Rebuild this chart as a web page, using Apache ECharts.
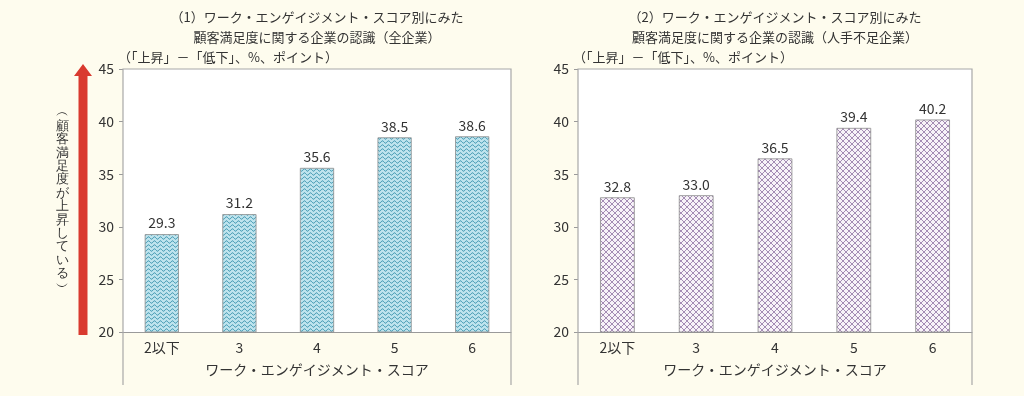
<!DOCTYPE html>
<html><head><meta charset="utf-8">
<script src="https://cdn.jsdelivr.net/npm/echarts@6/dist/echarts.min.js"></script>
<style>html,body{margin:0;padding:0;background:#fefcee;}#c{width:1024px;height:396px;}</style>
</head><body><div id="c"></div>
<script>
const categories = ['2以下', '3', '4', '5', '6'];
const allFirms = [29.3, 31.2, 35.6, 38.5, 38.6];
const shortageFirms = [32.8, 33.0, 36.5, 39.4, 40.2];
const title1 = '（1）ワーク・エンゲイジメント・スコア別にみた\n顧客満足度に関する企業の認識（全企業）';
const title2 = '（2）ワーク・エンゲイジメント・スコア別にみた\n顧客満足度に関する企業の認識（人手不足企業）';
const unitLabel = '（「上昇」－「低下」、%、ポイント）';
const xName = 'ワーク・エンゲイジメント・スコア';
const sideNote = '︵顧客満足度が上昇している︶';
const yMin = 20, yMax = 45, yStep = 5;

const FONT = '"Noto Sans CJK JP", "Noto Sans", sans-serif';

function wavePattern() {
  const c = document.createElement('canvas');
  c.width = 6; c.height = 4;
  const g = c.getContext('2d');
  g.fillStyle = '#bfe4ee'; g.fillRect(0, 0, 6, 4);
  g.strokeStyle = '#3590aa'; g.lineWidth = 1;
  g.beginPath();
  for (let x = 0; x <= 6; x += 0.5) {
    const y = 2 + 1.2 * Math.sin(x / 6 * Math.PI * 2);
    if (x === 0) g.moveTo(x, y); else g.lineTo(x, y);
  }
  g.stroke();
  return c;
}
function crossPattern() {
  const c = document.createElement('canvas');
  c.width = 6; c.height = 6;
  const g = c.getContext('2d');
  g.fillStyle = '#f7f2f8'; g.fillRect(0, 0, 6, 6);
  g.strokeStyle = '#a48cb4'; g.lineWidth = 1;
  g.beginPath();
  g.moveTo(0, 0); g.lineTo(6, 6);
  g.moveTo(6, 0); g.lineTo(0, 6);
  g.stroke();
  return c;
}

const grids = [
  { left: 123, right: 1024 - 511, top: 69, bottom: 396 - 332 },
  { left: 578, right: 1024 - 972, top: 69, bottom: 396 - 332 }
];

function xAxis(i) {
  return {
    type: 'category', gridIndex: i, data: categories,
    axisLine: { lineStyle: { color: '#9a9a9a', width: 1 } },
    axisTick: { show: false },
    axisLabel: { color: '#333', fontSize: 14, fontFamily: FONT, margin: 9 },
    name: xName, nameLocation: 'middle', nameGap: 31,
    nameTextStyle: { color: '#333', fontSize: 14, fontFamily: FONT }
  };
}
function yAxis(i) {
  return {
    type: 'value', gridIndex: i, min: yMin, max: yMax, interval: yStep,
    axisLine: { show: false },
    axisTick: { show: true, length: 4, lineStyle: { color: '#9a9a9a' } },
    splitLine: { show: false },
    axisLabel: { color: '#333', fontSize: 14, fontFamily: FONT, margin: 9 },
    name: unitLabel, nameLocation: 'end', nameGap: 5,
    nameTextStyle: { color: '#333', fontSize: 13, fontFamily: FONT, align: 'left', padding: [0, 0, 0, -5] }
  };
}
function series(i, data, pattern) {
  return {
    type: 'bar', xAxisIndex: i, yAxisIndex: i, data: data, barWidth: '44%',
    itemStyle: { color: { image: pattern, repeat: 'repeat' }, borderColor: '#8c8c8c', borderWidth: 0.8 },
    label: { show: true, position: 'top', distance: 4, color: '#333', fontSize: 14, fontFamily: FONT,
      formatter: p => p.value.toFixed(1) },
    animation: false
  };
}

const chart = echarts.init(document.getElementById('c'));
const frameColor = '#a8a8a8';
function frame(l, r) {
  return { type: 'polyline', silent: true, z: 10,
    shape: { points: [[l, 385], [l, 69], [r, 69], [r, 385]] },
    style: { stroke: frameColor, lineWidth: 1.2, fill: null } };
}
const titleStyle = { fontSize: 13, fontWeight: 'normal', color: '#333', lineHeight: 20, fontFamily: FONT };
chart.setOption({
  backgroundColor: '#fefcee',
  animation: false,
  textStyle: { fontFamily: FONT },
  title: [
    { text: title1, left: 317, top: 7, textAlign: 'center', padding: 0, textStyle: titleStyle },
    { text: title2, left: 775, top: 7, textAlign: 'center', padding: 0, textStyle: titleStyle }
  ],
  grid: grids.map(g => Object.assign({ show: true, backgroundColor: '#ffffff', borderWidth: 0 }, g)),
  xAxis: [xAxis(0), xAxis(1)],
  yAxis: [yAxis(0), yAxis(1)],
  series: [series(0, allFirms, wavePattern()), series(1, shortageFirms, crossPattern())],
  graphic: [
    frame(123, 511), frame(578, 972),
    { type: 'polygon', silent: true,
      shape: { points: [[83, 64], [92, 76], [87.5, 76], [87.5, 335], [78.5, 335], [78.5, 76], [74, 76]] },
      style: { fill: '#d93a2f' } },
    { type: 'text', silent: true, x: 62, y: 200,
      style: { text: sideNote.split('').join('\n'), fontSize: 13, lineHeight: 13.4, fill: '#333',
        font: '13px ' + FONT, align: 'center', verticalAlign: 'middle' } }
  ]
});
</script>
</body></html>
